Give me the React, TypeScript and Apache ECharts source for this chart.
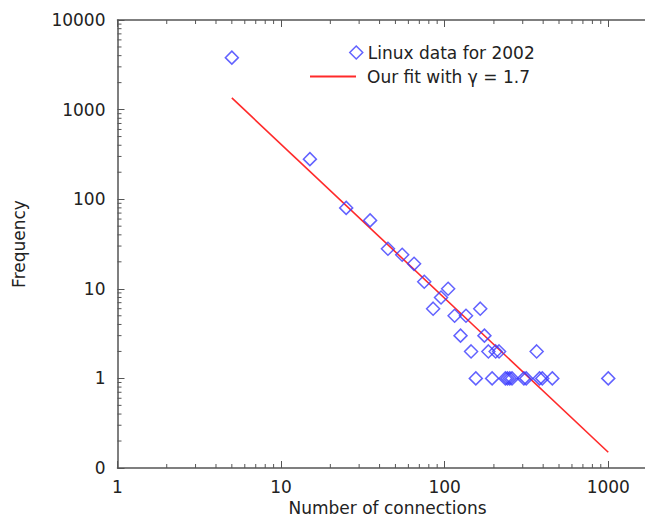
import React, { useEffect, useRef } from "react";
import * as echarts from "echarts";

// Scatter data: number of connections vs. frequency (Linux 2002)
const connections = [5, 15, 25, 35, 45, 55, 65, 75, 85, 95, 105, 115, 125, 135, 145, 155, 165, 175, 185, 195, 205, 215, 235, 242, 250, 258, 305, 315, 365, 380, 395, 455, 1000];
const frequency = [3800, 280, 80, 58, 28, 24, 19, 12, 6, 8, 10, 5, 3, 5, 2, 1, 6, 3, 2, 1, 2, 2, 1, 1, 1, 1, 1, 1, 2, 1, 1, 1, 1];

// Fit line endpoints (gamma = 1.7)
const fitX = [5, 1000];
const fitY = [1350, 0.15];

// Axis ranges and minor ticks
const X_MIN = 1;
const X_MAX = 2000;
const Y_MIN = 0.1;
const Y_MAX = 10000;
const xDecades = [1, 10, 100];
const yDecades = [0.1, 1, 10, 100, 1000];
const minorMultipliers = [2, 3, 4, 5, 6, 7, 8, 9];

const FONT = "DejaVu Sans";
const AXIS = "#555555";
const TEXT = "#222222";
const BLUE = "#3b3bff";
const RED = "#ff2a2a";

const isDecade = (v: number) => Math.abs(Math.log10(v) - Math.round(Math.log10(v))) < 1e-6;

export default function App() {
  const ref = useRef<HTMLDivElement>(null);
  useEffect(() => {
    if (!ref.current) return;
    const chart = echarts.init(ref.current, undefined, { renderer: "svg" });
    const xMinor: number[][] = [];
    xDecades.forEach((d) => minorMultipliers.forEach((m) => xMinor.push([d * m, 1])));
    const yMinor: number[][] = [];
    yDecades.forEach((d) => minorMultipliers.forEach((m) => yMinor.push([1, +(d * m).toPrecision(6)])));

    const tickLen = 4;
    chart.setOption({
      animation: false,
      backgroundColor: "#ffffff",
      grid: { left: 117.5, top: 20, width: 540, height: 448, outerBoundsMode: "none", containLabel: false },
      legend: [
        {
          data: ["Linux data for 2002"],
          left: 349,
          top: 44,
          padding: 0,
          itemWidth: 13,
          itemHeight: 13,
          textStyle: { fontFamily: FONT, fontSize: 17, color: TEXT },
          itemStyle: { color: "rgba(0,0,0,0)", borderColor: BLUE, borderWidth: 1.5 },
        },
        {
          data: [{ name: "Our fit with γ = 1.7", icon: "rect" }],
          left: 310,
          top: 68,
          padding: 0,
          itemWidth: 46,
          itemHeight: 2,
          textStyle: { fontFamily: FONT, fontSize: 17, color: TEXT, padding: [0, 0, 0, 6] },
          itemStyle: { color: RED, borderWidth: 0 },
        },
      ],
      xAxis: [
        {
          type: "log",
          logBase: 10,
          min: X_MIN,
          max: X_MAX,
          position: "bottom",
          name: "Number of connections",
          nameLocation: "middle",
          nameGap: 28,
          nameTextStyle: { fontFamily: FONT, fontSize: 17, color: TEXT },
          axisLine: { show: true, lineStyle: { color: AXIS, width: 1.5 } },
          axisTick: { show: true, inside: true, length: 7, lineStyle: { color: AXIS, width: 1 } },
          axisLabel: {
            fontFamily: FONT,
            fontSize: 17,
            color: TEXT,
            margin: 10,
            showMaxLabel: false,
            formatter: (v: number) => (isDecade(v) ? String(Math.round(v)) : ""),
          },
          splitLine: { show: false },
        },
        {
          type: "log",
          logBase: 10,
          min: X_MIN,
          max: X_MAX,
          position: "top",
          axisLine: { show: true, lineStyle: { color: AXIS, width: 1.5 } },
          axisTick: { show: true, inside: true, length: 7, lineStyle: { color: AXIS, width: 1 } },
          axisLabel: { show: false },
          splitLine: { show: false },
        },
      ],
      yAxis: {
        type: "log",
        logBase: 10,
        min: Y_MIN,
        max: Y_MAX,
        name: "Frequency",
        nameLocation: "middle",
        nameGap: 90,
        nameTextStyle: { fontFamily: FONT, fontSize: 17, color: TEXT },
        axisLine: { show: true, lineStyle: { color: AXIS, width: 1.5 } },
        axisTick: { show: true, inside: true, length: 7, lineStyle: { color: AXIS, width: 1 } },
        axisLabel: {
          fontFamily: FONT,
          fontSize: 17,
          color: TEXT,
          margin: 12,
          formatter: (v: number) => (v < 1 ? "0" : String(Math.round(v))),
        },
        splitLine: { show: false },
      },
      series: [
        {
          type: "custom",
          silent: true,
          clip: false,
          xAxisIndex: 0,
          yAxisIndex: 0,
          data: xMinor,
          renderItem: (_p: any, api: any) => {
            const v = api.value(0);
            const b = api.coord([v, Y_MIN]);
            const t = api.coord([v, Y_MAX]);
            return {
              type: "group",
              children: [
                { type: "line", shape: { x1: b[0], y1: b[1], x2: b[0], y2: b[1] - tickLen }, style: { stroke: AXIS, lineWidth: 1 } },
                { type: "line", shape: { x1: t[0], y1: t[1], x2: t[0], y2: t[1] + tickLen }, style: { stroke: AXIS, lineWidth: 1 } },
              ],
            };
          },
        },
        {
          type: "custom",
          silent: true,
          clip: false,
          xAxisIndex: 0,
          yAxisIndex: 0,
          data: yMinor,
          renderItem: (_p: any, api: any) => {
            const v = api.value(1);
            const l = api.coord([X_MIN, v]);
            return {
              type: "line",
              shape: { x1: l[0], y1: l[1], x2: l[0] + tickLen, y2: l[1] },
              style: { stroke: AXIS, lineWidth: 1 },
            };
          },
        },
        {
          name: "Our fit with γ = 1.7",
          type: "line",
          data: fitX.map((x, i) => [x, fitY[i]]),
          showSymbol: false,
          symbol: "none",
          lineStyle: { color: RED, width: 1.6 },
          itemStyle: { color: RED },
          z: 3,
        },
        {
          name: "Linux data for 2002",
          type: "scatter",
          data: connections.map((x, i) => [x, frequency[i]]),
          symbol: "diamond",
          symbolSize: 13,
          itemStyle: { color: "rgba(0,0,0,0)", borderColor: BLUE, borderWidth: 1.5 },
          z: 4,
        },
      ],
    });
    return () => chart.dispose();
  }, []);
  return (
    <div
      ref={ref}
      style={{ position: "fixed", left: 0, top: 0, width: 645, height: 518, background: "#fff" }}
    />
  );
}
